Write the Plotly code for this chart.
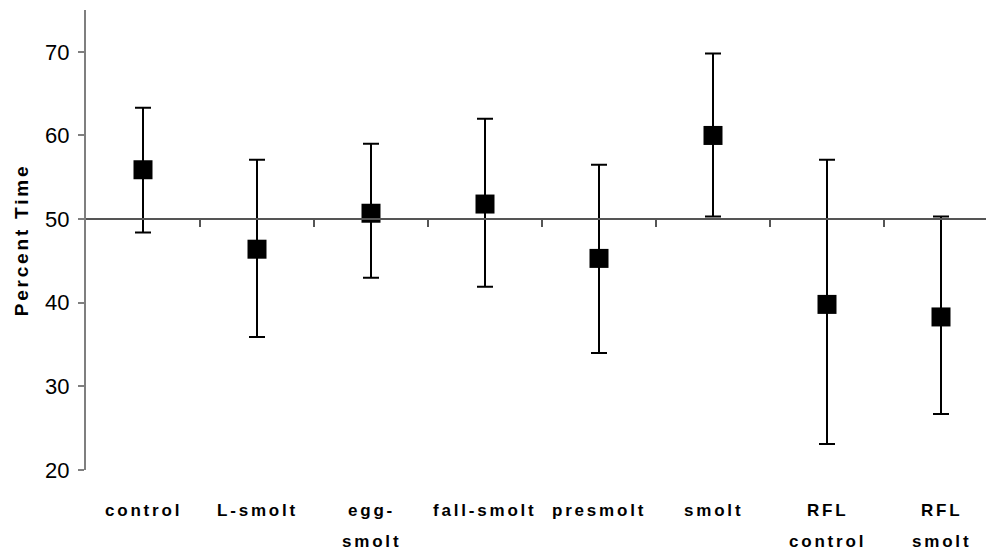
import plotly.graph_objects as go

# Treatment groups (two-line labels split into top / bottom rows)
groups = ["control", "L-smolt", "egg-smolt", "fall-smolt", "presmolt", "smolt", "RFL control", "RFL smolt"]
label_top = ["control", "L-smolt", "egg-", "fall-smolt", "presmolt", "smolt", "RFL", "RFL"]
label_bottom = ["", "", "smolt", "", "", "", "control", "smolt"]

# Mean percent time and error-bar extents
mean_pct = [55.9, 46.4, 50.7, 51.8, 45.3, 60.0, 39.8, 38.3]
err_up = [7.4, 10.7, 8.3, 10.2, 11.2, 9.8, 17.3, 12.0]
err_down = [7.5, 10.5, 7.7, 9.9, 11.3, 9.7, 16.7, 11.6]

y_ticks = [20, 30, 40, 50, 60, 70]

x_pos = list(range(len(groups)))

fig = go.Figure()
fig.add_trace(go.Scatter(
    x=x_pos,
    y=mean_pct,
    mode="markers",
    marker=dict(symbol="square", size=19, color="black"),
    error_y=dict(type="data", symmetric=False, array=err_up, arrayminus=err_down,
                 color="black", thickness=2, width=8),
    showlegend=False,
    hovertext=groups,
))

label_font = dict(family="Liberation Sans, Arial, sans-serif", size=17, color="black")
spaced = '<span style="letter-spacing:2.8px"><b>{}</b></span>'
for i in x_pos:
    fig.add_annotation(x=i, y=0, xref="x", yref="paper", yanchor="middle",
                       yshift=-40, text=spaced.format(label_top[i]),
                       showarrow=False, font=label_font)
    if label_bottom[i]:
        fig.add_annotation(x=i, y=0, xref="x", yref="paper", yanchor="middle",
                           yshift=-71, text=spaced.format(label_bottom[i]),
                           showarrow=False, font=label_font)

fig.update_layout(
    width=986, height=554,
    margin=dict(l=86, r=0, t=10, b=84),
    paper_bgcolor="white", plot_bgcolor="white",
    font=dict(family="Liberation Sans, Arial, sans-serif", color="black"),
    xaxis=dict(
        range=[-0.5, -0.5 + 900 / 114],
        anchor="free", position=(50 - 20) / (75 - 20),
        showline=True, linecolor="#555555", linewidth=1.5,
        ticks="outside", ticklen=7, tickcolor="#555555", tickwidth=1.5,
        tickvals=[i + 0.5 for i in x_pos[:-1]],
        showticklabels=False, showgrid=False, zeroline=False,
    ),
    yaxis=dict(
        range=[20, 75],
        tickvals=y_ticks,
        showline=True, linecolor="#7f7f7f", linewidth=2,
        ticks="outside", ticklen=6, tickcolor="#7f7f7f", tickwidth=1.5,
        tickfont=dict(size=22, color="black"),
        ticklabelstandoff=4,
        showgrid=False, zeroline=False,
        title=dict(text='<span style="letter-spacing:2.8px"><b>Percent Time</b></span>',
                   font=dict(size=19, color="black"), standoff=11),
    ),
)

fig.write_html("out.html")
